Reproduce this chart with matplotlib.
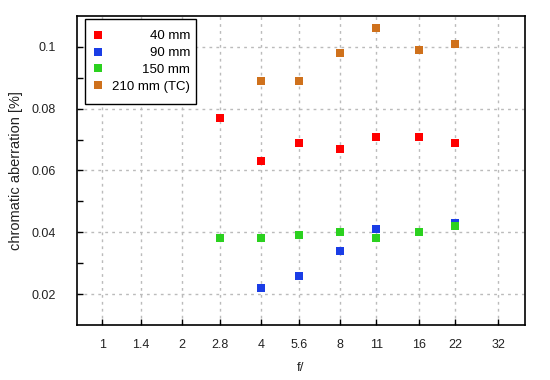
import matplotlib
matplotlib.use("Agg")
import matplotlib.pyplot as plt
from matplotlib.ticker import FixedLocator, FixedFormatter, NullLocator

plt.rcParams['font.family'] = ['Liberation Sans', 'DejaVu Sans']

fstops = [1, 1.4, 2, 2.8, 4, 5.6, 8, 11, 16, 22, 32]
tick_labels = ["1", "1.4", "2", "2.8", "4", "5.6", "8", "11", "16", "22", "32"]

f_40 = [2.8, 4, 5.6, 8, 11, 16, 22]
ca_40 = [0.077, 0.063, 0.069, 0.067, 0.071, 0.071, 0.069]

f_90 = [4, 5.6, 8, 11, 16, 22]
ca_90 = [0.022, 0.026, 0.034, 0.041, 0.040, 0.043]

f_150 = [2.8, 4, 5.6, 8, 11, 16, 22]
ca_150 = [0.038, 0.038, 0.039, 0.040, 0.038, 0.040, 0.042]

f_210 = [4, 5.6, 8, 11, 16, 22]
ca_210 = [0.089, 0.089, 0.098, 0.106, 0.099, 0.101]

series = [
    ("40 mm", f_40, ca_40, "#ff0000"),
    ("90 mm", f_90, ca_90, "#1a3de6"),
    ("150 mm", f_150, ca_150, "#2bd11f"),
    ("210 mm (TC)", f_210, ca_210, "#cf711c"),
]

fig = plt.figure(figsize=(5.5, 3.8), dpi=100)
ax = fig.add_axes([77/550, 55/380, 448/550, 309/380])

for label, xs, ys, c in series:
    ax.plot(xs, ys, linestyle='none', marker='s', markersize=5.2,
            markerfacecolor=c, markeredgecolor=c, markeredgewidth=0, label=label)

ax.set_xscale('log')
ax.set_xlim(0.8, 40.5)
ax.set_ylim(0.01, 0.11)
ax.xaxis.set_major_locator(FixedLocator(fstops))
ax.xaxis.set_major_formatter(FixedFormatter(tick_labels))
ax.xaxis.set_minor_locator(NullLocator())
ax.yaxis.set_major_locator(FixedLocator([0.02, 0.04, 0.06, 0.08, 0.1]))
ax.yaxis.set_major_formatter(FixedFormatter(["0.02", "0.04", "0.06", "0.08", "0.1"]))
ax.yaxis.set_minor_locator(FixedLocator([0.03, 0.05, 0.07, 0.09]))

ax.tick_params(axis='both', which='both', direction='in', labelsize=9, color='black',
               labelcolor='#222222')
ax.tick_params(axis='x', which='major', length=4.5, width=1, pad=10)
ax.tick_params(axis='y', which='major', length=4.5, width=1, pad=15)
ax.tick_params(axis='y', which='minor', length=4.5, width=1)
for s in ax.spines.values():
    s.set_linewidth(1.2)
    s.set_color('black')

ax.grid(True, which='major', color='#bbbbbb', linestyle=(0, (2, 3)), linewidth=1)
ax.set_axisbelow(True)

ax.set_xlabel("f/", fontsize=9.5, labelpad=8, color='#222222')
ax.set_ylabel("chromatic aberration [%]", fontsize=10.5, labelpad=6, color='#222222')

leg = ax.legend(loc='upper left', bbox_to_anchor=(8/448, 1 - 3/309), fontsize=9.5,
                fancybox=False, framealpha=1, edgecolor='black', handlelength=0.2,
                handletextpad=0.62, borderpad=0.85, labelspacing=0.34, borderaxespad=0)
leg.get_frame().set_linewidth(1)

fig.canvas.draw()
renderer = fig.canvas.get_renderer()
texts = leg.get_texts()
widths = [t.get_window_extent(renderer).width for t in texts]
wmax = max(widths)
for t, w in zip(texts, widths):
    t.set_position((wmax - w + 5, 0))

fig.savefig("out.png", dpi=100)
